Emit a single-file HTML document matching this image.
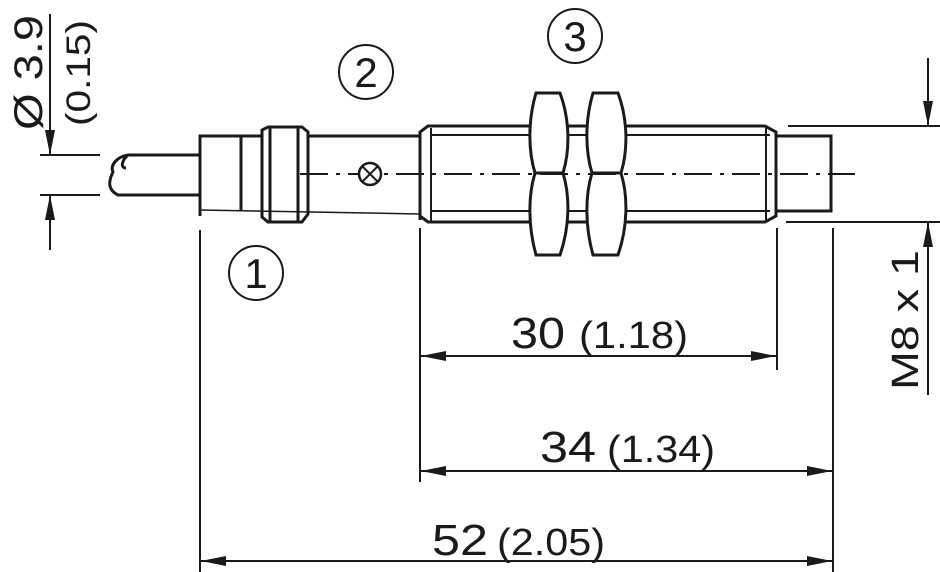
<!DOCTYPE html>
<html><head><meta charset="utf-8"><style>html,body{margin:0;padding:0;background:#fff;}svg{display:block}</style></head>
<body>
<svg width="940" height="572" viewBox="0 0 940 572" xmlns="http://www.w3.org/2000/svg" font-family="Liberation Sans, sans-serif" fill="none" stroke="#1a1a1a">
<defs>
<marker id="a" markerWidth="26" markerHeight="12" refX="25" refY="6" orient="auto" markerUnits="userSpaceOnUse"><path d="M0,1 L25,6 L0,11 Z" fill="#1a1a1a" stroke="none"/></marker>
</defs>
<!-- left dim -->
<g stroke-width="2">
<line x1="50" y1="14" x2="50" y2="155" marker-end="url(#a)"/>
<line x1="50" y1="250" x2="50" y2="195" marker-end="url(#a)"/>
<line x1="40" y1="155" x2="100" y2="155"/>
<line x1="40" y1="195" x2="100" y2="195"/>
</g>
<text transform="translate(42,130) rotate(-90)" font-size="40" textLength="115" lengthAdjust="spacingAndGlyphs" fill="#1a1a1a" stroke="none">Ø 3.9</text>
<text transform="translate(90,126) rotate(-90)" font-size="34" textLength="106" lengthAdjust="spacingAndGlyphs" fill="#1a1a1a" stroke="none">(0.15)</text>
<!-- cable -->
<g stroke-width="3">
<path d="M200,155 L128,155 C116,157 110,166 113,172 C108,182 108,190 118,195 L200,195"/>
<path d="M128,155 C122,160 120,168 126,168"/>
<path d="M200,216 L200,136 L262,136 M308,136 L420,136"/>
<line x1="200" y1="210" x2="420" y2="214" stroke-width="1.5"/>
<line x1="241" y1="136" x2="241" y2="210"/>
<path d="M262,136 L262,130 L268,127 L302,127 L308,132 L308,214 L302,222 L268,222 L262,217 Z"/>
<line x1="270" y1="128" x2="270" y2="222"/>
<line x1="298" y1="128" x2="298" y2="222"/>
<path d="M420,220 L420,132 L428,126 L530,126 M567,126 L587,126 M625,126 L765,126 L776,132 L776,216 L765,222 L625,222 M587,222 L567,222 M530,222 L428,222 L420,216"/>
<line x1="430" y1="135" x2="530" y2="135" stroke-width="2"/>
<line x1="567" y1="135" x2="587" y2="135" stroke-width="2"/>
<line x1="625" y1="135" x2="770" y2="135" stroke-width="2"/>
<line x1="430" y1="211" x2="530" y2="211" stroke-width="2"/>
<line x1="567" y1="211" x2="587" y2="211" stroke-width="2"/>
<line x1="625" y1="211" x2="770" y2="211" stroke-width="2"/>
<line x1="431" y1="128" x2="431" y2="222" stroke-width="2"/>
<line x1="766" y1="128" x2="766" y2="222" stroke-width="2"/>
<path d="M536,93 L560,93 C570,120 570,150 563,173 C570,196 570,226 560,255 L536,255 C528,226 528,196 535,173 C528,150 528,120 536,93 Z"/>
<line x1="535" y1="173" x2="563" y2="173"/>
<path d="M593,93 L618,93 C628,120 628,150 621,173 C628,196 628,226 618,255 L593,255 C585,226 585,196 592,173 C585,150 585,120 593,93 Z"/>
<line x1="592" y1="173" x2="621" y2="173"/>
<path d="M776,136 L831,136 L831,211 L776,211"/>
</g>
<line x1="300" y1="174" x2="855" y2="174" stroke-width="2" stroke-dasharray="28,8,4,8"/>
<circle cx="370" cy="174" r="11" stroke-width="2.5" fill="#fff"/>
<path d="M362,166 L378,182 M378,166 L362,182" stroke-width="2"/>
<!-- right dim -->
<g stroke-width="2">
<line x1="788" y1="126" x2="940" y2="126"/>
<line x1="786" y1="222" x2="940" y2="222"/>
<line x1="928" y1="58" x2="928" y2="126" marker-end="url(#a)"/>
<line x1="928" y1="395" x2="928" y2="222" marker-end="url(#a)"/>
</g>
<text transform="translate(918,390) rotate(-90)" font-size="38" textLength="140" lengthAdjust="spacingAndGlyphs" fill="#1a1a1a" stroke="none">M8 x 1</text>
<!-- circle labels -->
<g stroke-width="2">
<circle cx="256" cy="273" r="27"/><circle cx="366" cy="72" r="27"/><circle cx="575" cy="36" r="27"/>
</g>
<g font-size="42" fill="#1a1a1a" stroke="none" text-anchor="middle">
<text x="256" y="288">1</text><text x="366" y="87">2</text><text x="575" y="51">3</text>
</g>
<!-- bottom dims -->
<g stroke-width="2">
<line x1="200" y1="230" x2="200" y2="572"/>
<line x1="420" y1="228" x2="420" y2="482"/>
<line x1="777" y1="228" x2="777" y2="370"/>
<line x1="833" y1="228" x2="833" y2="572"/>
<line x1="600" y1="356" x2="421" y2="356" marker-end="url(#a)"/>
<line x1="600" y1="356" x2="776" y2="356" marker-end="url(#a)"/>
<line x1="620" y1="471" x2="421" y2="471" marker-end="url(#a)"/>
<line x1="620" y1="471" x2="832" y2="471" marker-end="url(#a)"/>
<line x1="500" y1="561" x2="201" y2="561" marker-end="url(#a)"/>
<line x1="500" y1="561" x2="832" y2="561" marker-end="url(#a)"/>
</g>
<g fill="#1a1a1a" stroke="none" lengthAdjust="spacingAndGlyphs">
<text x="511" y="348" font-size="44" textLength="54" lengthAdjust="spacingAndGlyphs">30</text>
<text x="579" y="348" font-size="38" textLength="109" lengthAdjust="spacingAndGlyphs">(1.18)</text>
<text x="540" y="462" font-size="44" textLength="56" lengthAdjust="spacingAndGlyphs">34</text>
<text x="607" y="462" font-size="38" textLength="108" lengthAdjust="spacingAndGlyphs">(1.34)</text>
<text x="432" y="555" font-size="44" textLength="56" lengthAdjust="spacingAndGlyphs">52</text>
<text x="497" y="555" font-size="38" textLength="108" lengthAdjust="spacingAndGlyphs">(2.05)</text>
</g>
</svg>
</body></html>
